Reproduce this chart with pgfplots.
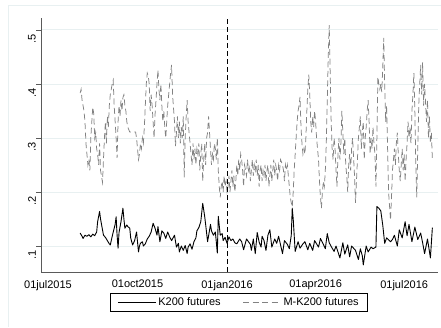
\documentclass[border=0pt]{standalone}
\usepackage{pgfplots}
\pgfplotsset{compat=1.18}
\usepackage{pgfplotstable}
\usepackage{fontspec}
\setmainfont{Liberation Sans}
\definecolor{gridc}{RGB}{232,240,241}
\definecolor{axc}{RGB}{90,90,90}
\definecolor{mk}{RGB}{130,130,130}
\pgfplotstableread{
d v
33 0.124
35 0.118
36 0.114
38 0.120
40 0.118
42 0.121
44 0.117
46 0.122
48 0.119
50 0.126
51 0.145
53 0.164
54 0.150
56 0.130
57 0.120
59 0.116
61 0.110
63 0.104
64 0.102
66 0.118
68 0.133
69 0.140
70 0.154
71 0.120
72 0.096
73 0.125
75 0.145
77 0.170
78 0.150
79 0.133
81 0.139
82 0.136
84 0.133
85 0.115
86 0.108
87 0.102
89 0.110
91 0.126
93 0.089
94 0.100
95 0.105
97 0.108
98 0.100
100 0.104
102 0.113
104 0.118
106 0.126
108 0.142
110 0.133
112 0.120
113 0.136
115 0.108
117 0.128
119 0.124
121 0.114
123 0.126
125 0.117
127 0.110
130 0.120
132 0.098
134 0.105
135 0.089
137 0.100
139 0.092
141 0.101
143 0.086
144 0.098
146 0.104
148 0.094
150 0.108
152 0.115
153 0.128
155 0.134
157 0.145
159 0.179
161 0.155
162 0.140
164 0.108
167 0.140
168 0.128
170 0.120
172 0.126
174 0.087
175 0.155
177 0.120
179 0.123
180 0.110
182 0.116
184 0.105
186 0.117
188 0.110
190 0.113
192 0.106
194 0.104
197 0.113
199 0.108
201 0.093
204 0.113
206 0.108
208 0.103
209 0.092
211 0.113
213 0.086
215 0.125
217 0.107
219 0.098
220 0.118
222 0.110
224 0.092
226 0.120
228 0.130
230 0.098
233 0.113
235 0.105
237 0.118
239 0.102
241 0.086
243 0.110
246 0.103
248 0.095
250 0.120
251 0.170
252 0.150
254 0.090
257 0.108
259 0.096
262 0.104
264 0.108
267 0.093
269 0.105
272 0.092
274 0.110
278 0.098
280 0.114
283 0.103
285 0.095
287 0.123
289 0.106
292 0.096
294 0.090
296 0.100
300 0.078
303 0.106
305 0.085
308 0.102
310 0.080
312 0.100
316 0.092
319 0.075
321 0.095
323 0.082
324 0.065
327 0.100
329 0.089
332 0.098
334 0.095
337 0.098
338 0.173
340 0.170
342 0.165
344 0.139
346 0.105
348 0.115
352 0.108
354 0.112
356 0.120
359 0.100
361 0.130
364 0.115
367 0.145
369 0.119
371 0.140
374 0.108
377 0.135
380 0.112
383 0.124
385 0.106
387 0.086
390 0.113
393 0.078
395 0.134
}\kfut
\pgfplotstableread{
d v
33 0.383
34 0.39
35 0.37
37 0.35
38 0.33
39 0.29
40 0.27
41 0.25
42 0.26
43 0.24
44 0.30
45 0.33
46 0.357
47 0.345
48 0.30
49 0.31
50 0.28
51 0.27
52 0.25
53 0.29
54 0.24
56 0.218
57 0.26
58 0.30
59 0.33
60 0.29
61 0.34
62 0.32
63 0.36
64 0.38
65 0.39
66 0.40
67 0.407
68 0.36
69 0.33
70 0.30
71 0.263
72 0.33
73 0.36
74 0.34
75 0.37
76 0.35
77 0.375
78 0.38
79 0.36
80 0.35
81 0.33
82 0.32
84 0.311
87 0.311
90 0.311
91 0.30
93 0.26
94 0.27
95 0.29
96 0.28
97 0.30
98 0.29
99 0.32
100 0.36
101 0.40
102 0.42
103 0.415
104 0.40
105 0.35
106 0.38
107 0.36
108 0.33
109 0.30
110 0.343
111 0.37
112 0.40
113 0.426
114 0.39
115 0.37
116 0.40
117 0.36
118 0.33
119 0.35
120 0.32
121 0.30
122 0.33
123 0.36
124 0.38
125 0.40
126 0.42
127 0.435
128 0.38
130 0.33
131 0.285
132 0.31
133 0.34
134 0.30
135 0.33
136 0.29
137 0.32
138 0.30
139 0.34
140 0.227
141 0.30
142 0.34
143 0.37
144 0.33
145 0.31
146 0.29
147 0.27
148 0.25
149 0.29
150 0.26
151 0.28
152 0.25
153 0.28
154 0.27
155 0.29
156 0.24
157 0.27
158 0.29
159 0.22
160 0.26
161 0.29
162 0.25
163 0.30
164 0.31
165 0.34
167 0.28
168 0.25
169 0.27
170 0.26
171 0.29
172 0.28
173 0.26
174 0.30
175 0.24
176 0.21
177 0.19
178 0.21
179 0.22
180 0.20
181 0.23
182 0.21
183 0.22
184 0.20
185 0.21
186 0.23
187 0.20
188 0.22
189 0.24
190 0.21
191 0.23
192 0.20
193 0.22
194 0.25
195 0.23
196 0.26
197 0.24
198 0.27
199 0.26
200 0.24
201 0.21
202 0.25
204 0.23
205 0.26
206 0.24
207 0.25
208 0.22
209 0.24
210 0.26
211 0.23
212 0.25
213 0.24
214 0.26
215 0.23
216 0.25
217 0.21
218 0.24
219 0.25
220 0.22
221 0.24
222 0.23
223 0.25
224 0.22
225 0.24
226 0.25
227 0.21
228 0.23
229 0.25
230 0.22
231 0.24
232 0.26
233 0.23
234 0.25
235 0.24
236 0.22
237 0.25
238 0.24
239 0.26
241 0.25
242 0.24
243 0.22
244 0.25
245 0.24
246 0.25
247 0.23
248 0.21
249 0.19
250 0.18
251 0.172
252 0.20
253 0.24
254 0.27
255 0.30
256 0.33
257 0.35
258 0.36
259 0.376
260 0.32
261 0.29
262 0.27
263 0.28
264 0.27
265 0.30
266 0.35
267 0.39
268 0.417
269 0.38
270 0.33
271 0.31
272 0.34
273 0.32
274 0.35
275 0.33
276 0.30
278 0.26
279 0.22
280 0.19
281 0.17
282 0.20
283 0.22
284 0.21
285 0.24
286 0.29
287 0.37
288 0.45
289 0.509
290 0.42
291 0.33
292 0.28
293 0.26
294 0.30
295 0.28
296 0.24
297 0.21
298 0.27
299 0.30
300 0.26
301 0.29
302 0.35
303 0.31
304 0.27
305 0.30
306 0.25
307 0.23
308 0.20
309 0.25
310 0.27
311 0.24
312 0.28
313 0.30
315 0.23
316 0.18
317 0.22
318 0.26
319 0.30
320 0.32
321 0.34
322 0.28
323 0.31
324 0.33
325 0.26
326 0.30
327 0.32
328 0.35
329 0.37
330 0.33
331 0.27
332 0.30
333 0.28
334 0.32
335 0.29
336 0.27
337 0.21
338 0.30
339 0.413
340 0.40
341 0.39
342 0.40
343 0.385
344 0.43
345 0.485
346 0.40
347 0.33
348 0.36
349 0.28
350 0.20
352 0.148
353 0.19
354 0.24
355 0.26
356 0.28
357 0.25
358 0.29
359 0.31
360 0.27
361 0.24
362 0.22
363 0.25
364 0.28
365 0.24
366 0.27
367 0.22
368 0.26
369 0.29
370 0.33
371 0.30
372 0.32
373 0.29
374 0.35
375 0.38
376 0.42
377 0.35
378 0.25
379 0.19
380 0.28
381 0.36
382 0.40
383 0.435
384 0.38
385 0.44
386 0.36
387 0.40
389 0.33
390 0.37
391 0.30
392 0.34
393 0.29
394 0.31
395 0.26
}\mkfut
\begin{document}
\begin{tikzpicture}[x=1pt,y=1pt]
\useasboundingbox (-41,-55) rectangle (400,272);
\draw[gridc, line width=0.6pt] (-33,-55) -- (-33,267) -- (400,267);
\begin{axis}[
  at={(0pt,0pt)}, anchor=south west,
  width=397pt, height=254pt, scale only axis,
  xmin=-7.2, xmax=400.8, ymin=0.0519, ymax=0.522,
  axis x line*=bottom, axis y line*=left,
  axis line style={axc, line width=0.6pt, -},
  xtick={0,92,184,275,366},
  xticklabels={01jul2015,01oct2015,01jan2016,01apr2016,01jul2016},
  ytick={0.1,0.2,0.3,0.4,0.5},
  yticklabels={.1,.2,.3,.4,.5},
  tick label style={font=\fontsize{11}{12}\selectfont},
  xtick style={draw=none},
  ytick style={axc, line width=0.6pt},
  tick align=outside, major tick length=5pt,
  yticklabel style={rotate=90, anchor=south, inner sep=0pt, xshift=-9pt},
  xticklabel style={anchor=north, inner sep=0pt, yshift=-3pt},
  ymajorgrids, major grid style={gridc, line width=0.8pt},
  legend columns=2,
  legend cell align=left,
  legend image code/.code={\draw[#1] (0pt,0pt) -- (38pt,0pt);},
  legend style={at={(axis description cs:0.499,-0.12)}, anchor=center,
    draw=black, line width=0.5pt, font=\fontsize{11}{12}\selectfont,
    inner xsep=7pt, inner ysep=2.5pt,
    /tikz/every even column/.append style={column sep=20pt}},
]
\addplot[black, line width=0.9pt, line join=round] table[x=d,y=v] {\kfut};
\addlegendentry{K200 futures}
\addplot[mk, line width=0.75pt, dash pattern=on 6pt off 3.5pt] table[x=d,y=v] {\mkfut};
\addlegendentry{M-K200 futures}
\addplot[black, line width=0.9pt, dash pattern=on 5pt off 3pt, forget plot] coordinates {(184,0.0519) (184,0.522)};
\end{axis}
\end{tikzpicture}
\end{document}
